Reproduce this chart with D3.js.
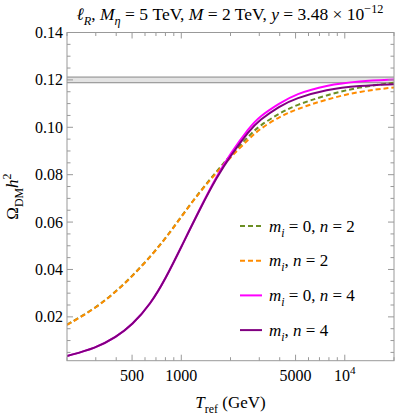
<!DOCTYPE html>
<html>
<head>
<meta charset="utf-8">
<script src="https://cdn.jsdelivr.net/npm/d3@7"></script>
<style>
  body { margin: 0; background: #fff; }
</style>
</head>
<body>
<div id="chart"></div>
<script>
// --- data --- \\
var temps = [200, 300, 400, 500, 650, 800, 1000, 1300, 1650, 2000, 2600, 3000, 4000, 5000, 7700, 12300, 20000];
var n2Massless = [0.0167, 0.0237, 0.0309, 0.0371, 0.0456, 0.0531, 0.0623, 0.0729, 0.0815, 0.0882, 0.0965, 0.1006, 0.1060, 0.1093, 0.1136, 0.1170, 0.1188];
var n2Massive  = [0.0166, 0.0236, 0.0308, 0.0370, 0.0455, 0.0530, 0.0622, 0.0728, 0.0810, 0.0873, 0.0952, 0.0992, 0.1045, 0.1075, 0.1118, 0.1152, 0.1168];
var n4Massless = [0.0035, 0.0068, 0.0115, 0.0165, 0.0255, 0.0360, 0.0495, 0.0657, 0.0795, 0.0890, 0.0998, 0.1045, 0.1102, 0.1140, 0.1178, 0.1195, 0.1202];
var n4Massive  = [0.0035, 0.0068, 0.0115, 0.0165, 0.0255, 0.0360, 0.0495, 0.0655, 0.0790, 0.0880, 0.0985, 0.1030, 0.1090, 0.1122, 0.1160, 0.1176, 0.1182];
var planckBand = [0.1188, 0.1212];

var xMajor = [500, 1000, 5000, 10000];
var xMajorLabels = ["500", "1000", "5000", "10^4"];
var xMinor = [200, 300, 400, 600, 700, 800, 900, 2000, 3000, 4000, 6000, 7000, 8000, 9000, 20000];
var yMajor = [0.02, 0.04, 0.06, 0.08, 0.10, 0.12, 0.14];
var yMajorLabels = ["0.02", "0.04", "0.06", "0.08", "0.10", "0.12", "0.14"];

var series = [
  { values: n2Massless, color: "#6b8e23", dash: "5,3", label: [["i", "m"], ["sub", "i"], ["", " = 0, "], ["i", "n"], ["", " = 2"]] },
  { values: n2Massive,  color: "#ff8c00", dash: "5,3", label: [["i", "m"], ["sub", "i"], ["", ", "], ["i", "n"], ["", " = 2"]] },
  { values: n4Massless, color: "#ff00ff", dash: null,  label: [["i", "m"], ["sub", "i"], ["", " = 0, "], ["i", "n"], ["", " = 4"]] },
  { values: n4Massive,  color: "#800080", dash: null,  label: [["i", "m"], ["sub", "i"], ["", ", "], ["i", "n"], ["", " = 4"]] }
];

var width = 398, height = 418
  , margin = { top: 32.5, right: 4, bottom: 57.3, left: 67 }
  , frameColor = "#999"
  , serif = "'Liberation Serif', 'Times New Roman', 'DejaVu Serif', serif";

var svg = d3.select("#chart").append("svg")
  .attr("width", width).attr("height", height)
  .attr("font-family", serif)
  .style("font-family", serif);

var x = d3.scaleLog().domain([200, 20000]).range([margin.left, width - margin.right]);
var y = d3.scaleLinear().domain([0.0015, 0.14]).range([height - margin.bottom, margin.top]);

// little helper for math-ish text: parts are [style, text]
// style: "" upright, "i" italic, "sub"/"sup" italic, "subu"/"supu" upright
function rich(textSel, parts, size) {
  var shift = 0;
  parts.forEach(function (p) {
    var kind = p[0], str = p[1];
    var ts = textSel.append("tspan").text(str);
    var target = 0;
    if (kind.indexOf("sub") === 0) target = size * 0.3;
    if (kind.indexOf("sup") === 0) target = -size * 0.4;
    ts.attr("dy", target - shift);
    shift = target;
    if (target !== 0) ts.attr("font-size", size * 0.7);
    if (kind === "i" || kind === "sub" || kind === "sup") ts.attr("font-style", "italic");
  });
}

// --- Planck band --- \\
svg.append("rect")
  .attr("x", margin.left).attr("width", width - margin.right - margin.left)
  .attr("y", y(planckBand[1])).attr("height", y(planckBand[0]) - y(planckBand[1]))
  .attr("fill", "#e3e3e3");
planckBand.forEach(function (v) {
  svg.append("line")
    .attr("x1", margin.left).attr("x2", width - margin.right)
    .attr("y1", y(v)).attr("y2", y(v))
    .attr("stroke", "#888").attr("stroke-width", 1);
});

// --- curves --- \\
var line = d3.line()
  .x(function (d) { return x(d[0]); })
  .y(function (d) { return y(d[1]); })
  .curve(d3.curveBasis);

svg.append("clipPath").attr("id", "plotClip").append("rect")
  .attr("x", margin.left).attr("y", margin.top)
  .attr("width", width - margin.right - margin.left)
  .attr("height", height - margin.bottom - margin.top);

series.forEach(function (s) {
  svg.append("path")
    .attr("clip-path", "url(#plotClip)")
    .attr("d", line(temps.map(function (t, i) { return [t, s.values[i]]; })))
    .attr("fill", "none")
    .attr("stroke", s.color)
    .attr("stroke-width", 2)
    .attr("stroke-dasharray", s.dash);
});

// --- frame and ticks (inward, on all four sides) --- \\
var x0 = margin.left, x1 = width - margin.right, y0 = height - margin.bottom, y1 = margin.top;
var ticks = svg.append("g").attr("stroke", frameColor).attr("stroke-width", 1);
function xTick(v, len) {
  var px = x(v);
  ticks.append("line").attr("x1", px).attr("x2", px).attr("y1", y0).attr("y2", y0 - len);
  ticks.append("line").attr("x1", px).attr("x2", px).attr("y1", y1).attr("y2", y1 + len);
}
function yTick(v, len) {
  var py = y(v);
  ticks.append("line").attr("x1", x0).attr("x2", x0 + len).attr("y1", py).attr("y2", py);
  ticks.append("line").attr("x1", x1).attr("x2", x1 - len).attr("y1", py).attr("y2", py);
}
xMajor.forEach(function (v) { xTick(v, 6); });
xMinor.forEach(function (v) { xTick(v, 3.5); });
d3.range(0.005, 0.1401, 0.005).forEach(function (v) {
  var major = Math.abs(v * 50 - Math.round(v * 50)) < 1e-6;
  yTick(v, major ? 6 : 3.5);
});
svg.append("rect")
  .attr("x", x0).attr("y", y1).attr("width", x1 - x0).attr("height", y0 - y1)
  .attr("fill", "none").attr("stroke", frameColor).attr("stroke-width", 1);

// tick labels
var fs = 16;
xMajor.forEach(function (v, i) {
  var t = svg.append("text").attr("x", x(v)).attr("y", y0 + 20)
    .attr("text-anchor", "middle").attr("font-size", fs);
  var lab = xMajorLabels[i];
  if (lab.indexOf("^") > 0) {
    var bits = lab.split("^");
    rich(t, [["", bits[0]], ["supu", bits[1]]], fs);
  } else t.text(lab);
});
yMajor.forEach(function (v, i) {
  svg.append("text").attr("x", x0 - 4).attr("y", y(v) + 5.5)
    .attr("text-anchor", "end").attr("font-size", fs).text(yMajorLabels[i]);
});

// --- axis labels and title --- \\
var xl = svg.append("text").attr("x", (x0 + x1) / 2).attr("y", 408)
  .attr("text-anchor", "middle").attr("font-size", 17);
rich(xl, [["i", "T"], ["subu", "ref"], ["", " (GeV)"]], 17);

var yl = svg.append("text").attr("transform", "translate(18," + ((y0 + y1) / 2) + ") rotate(-90)")
  .attr("text-anchor", "middle").attr("font-size", 17);
rich(yl, [["", "Ω"], ["subu", "DM"], ["i", "h"], ["supu", "2"]], 17);

var title = svg.append("text").attr("x", 230).attr("y", 19.5)
  .attr("text-anchor", "middle").attr("font-size", 17.5);
rich(title, [["i", "ℓ"], ["sub", "R"], ["", ",  "], ["i", "M"], ["sub", "η"], ["", " = 5 TeV, "],
  ["i", "M"], ["", " = 2 TeV, "], ["i", "y"], ["", " = 3.48 × 10"], ["supu", "−12"]], 17.5);

// --- legend --- \\
var legend = svg.append("g").attr("transform", "translate(240,226)");
series.forEach(function (s, i) {
  var row = legend.append("g").attr("transform", "translate(0," + (i * 34.7) + ")");
  row.append("line").attr("x1", 0).attr("x2", 22).attr("y1", 0).attr("y2", 0)
    .attr("stroke", s.color).attr("stroke-width", 2).attr("stroke-dasharray", s.dash);
  var t = row.append("text").attr("x", 29).attr("y", 5.5).attr("font-size", 17);
  rich(t, s.label, 17);
});
</script>
</body>
</html>
